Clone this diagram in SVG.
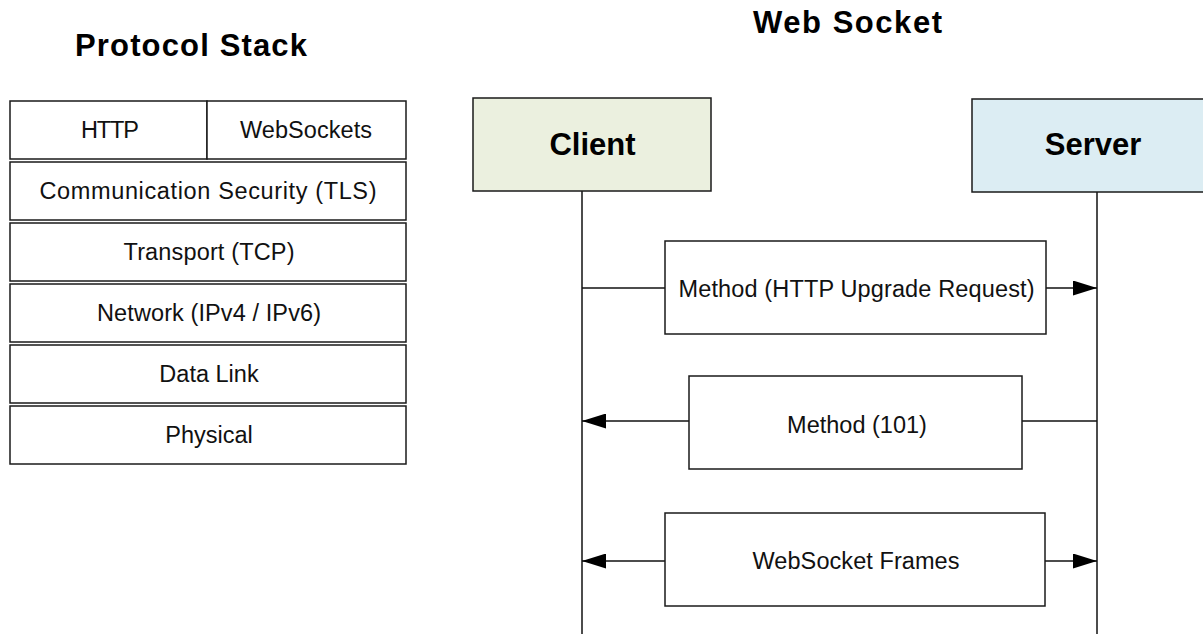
<svg xmlns="http://www.w3.org/2000/svg" width="1203" height="634" viewBox="0 0 1203 634">
<style>
.box{fill:#fff;stroke:#1a1a1a;stroke-width:1.5}
.t{font-family:"Liberation Sans",Arial,sans-serif;font-size:23.5px;fill:#111;text-anchor:middle}
.b{font-family:"Liberation Sans",Arial,sans-serif;font-weight:bold;font-size:31px;fill:#000;text-anchor:middle}
.ln{stroke:#111;stroke-width:1.5;fill:none}
</style>
<defs>
<marker id="ah" markerWidth="24" markerHeight="15" refX="24" refY="7.5" orient="auto" markerUnits="userSpaceOnUse">
<path d="M0,0 L24,7.5 L0,15 Z" fill="#000"/>
</marker>
</defs>
<rect width="1203" height="634" fill="#fff"/>
<g id="titles">
<text class="b" x="191" y="56" textLength="232" lengthAdjust="spacing">Protocol Stack</text>
<text class="b" x="847.5" y="33" textLength="189" lengthAdjust="spacing">Web Socket</text>
</g>
<g id="stack">
<g id="http"><rect class="box" x="10" y="101" width="197" height="58"/><text class="t" x="110" y="138" textLength="58" lengthAdjust="spacing">HTTP</text></g>
<g id="websockets"><rect class="box" x="207" y="101" width="199" height="58"/><text class="t" x="306" y="138" textLength="132" lengthAdjust="spacing">WebSockets</text></g>
<g id="tls"><rect class="box" x="10" y="162" width="396" height="58"/><text class="t" x="208" y="199" textLength="337" lengthAdjust="spacing">Communication Security (TLS)</text></g>
<g id="tcp"><rect class="box" x="10" y="223" width="396" height="58"/><text class="t" x="209" y="260" textLength="171" lengthAdjust="spacing">Transport (TCP)</text></g>
<g id="ip"><rect class="box" x="10" y="284" width="396" height="58"/><text class="t" x="209" y="321" textLength="224" lengthAdjust="spacing">Network (IPv4 / IPv6)</text></g>
<g id="datalink"><rect class="box" x="10" y="345" width="396" height="58"/><text class="t" x="209" y="382">Data Link</text></g>
<g id="physical"><rect class="box" x="10" y="406" width="396" height="58"/><text class="t" x="209" y="443">Physical</text></g>
</g>
<g id="connectors">
<line class="ln" x1="582" y1="191" x2="582" y2="634"/>
<line class="ln" x1="1097" y1="192" x2="1097" y2="634"/>
<line class="ln" x1="582" y1="288" x2="665" y2="288"/>
<line class="ln" x1="1046" y1="288" x2="1097" y2="288" marker-end="url(#ah)"/>
<line class="ln" x1="689" y1="421" x2="582" y2="421" marker-end="url(#ah)"/>
<line class="ln" x1="1022" y1="421" x2="1097" y2="421"/>
<line class="ln" x1="665" y1="561" x2="582" y2="561" marker-end="url(#ah)"/>
<line class="ln" x1="1045" y1="561" x2="1097" y2="561" marker-end="url(#ah)"/>
</g>
<g id="client"><rect x="473" y="98" width="238" height="93" fill="#EBF0DF" stroke="#1a1a1a" stroke-width="1.5"/><text class="b" x="592.5" y="155">Client</text></g>
<g id="server"><rect x="972" y="99" width="240" height="93" fill="#DCEDF3" stroke="#1a1a1a" stroke-width="1.5"/><text class="b" x="1093" y="155">Server</text></g>
<g id="msg1"><rect class="box" x="665" y="241" width="381" height="93"/><text class="t" x="856.5" y="297" textLength="356" lengthAdjust="spacing">Method (HTTP Upgrade Request)</text></g>
<g id="msg2"><rect class="box" x="689" y="376" width="333" height="93"/><text class="t" x="857" y="433">Method (101)</text></g>
<g id="msg3"><rect class="box" x="665" y="513" width="380" height="93"/><text class="t" x="856" y="569" textLength="207" lengthAdjust="spacing">WebSocket Frames</text></g>
</svg>
